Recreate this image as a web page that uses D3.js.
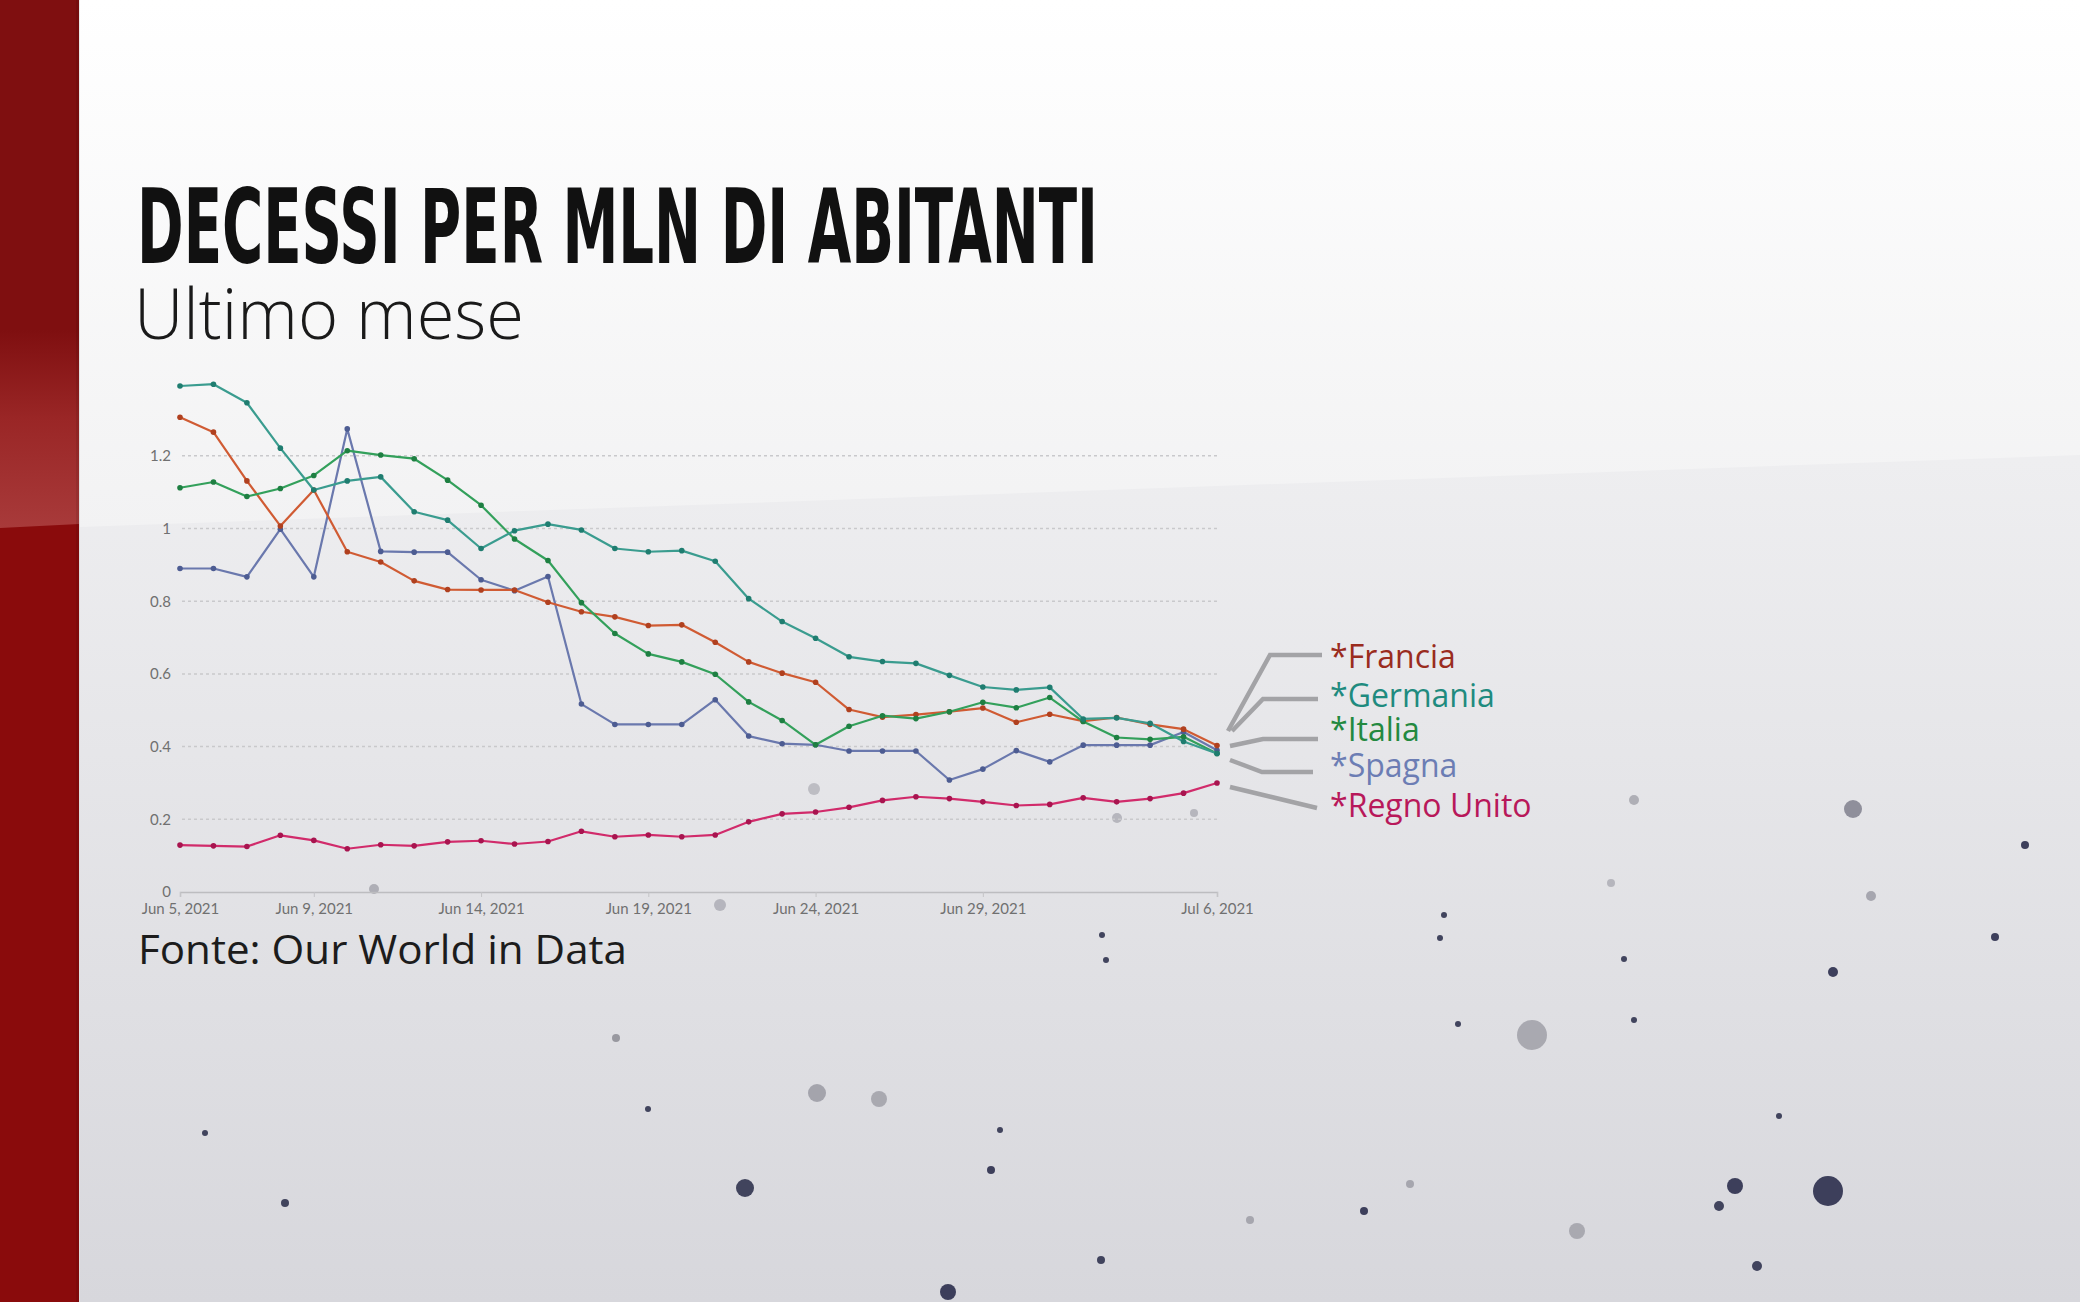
<!DOCTYPE html>
<html>
<head>
<meta charset="utf-8">
<script src="https://cdn.jsdelivr.net/npm/d3@7/dist/d3.min.js"></script>
<style>
  html, body { margin: 0; padding: 0; background: #eeeeee; }
  svg { display: block; }
</style>
</head>
<body>
<svg id="chart" width="2080" height="1302"></svg>
<script>
// ---------------- DATA ----------------
const dates = ["2021-06-05","2021-06-06","2021-06-07","2021-06-08","2021-06-09","2021-06-10","2021-06-11","2021-06-12",
  "2021-06-13","2021-06-14","2021-06-15","2021-06-16","2021-06-17","2021-06-18","2021-06-19","2021-06-20",
  "2021-06-21","2021-06-22","2021-06-23","2021-06-24","2021-06-25","2021-06-26","2021-06-27","2021-06-28",
  "2021-06-29","2021-06-30","2021-07-01","2021-07-02","2021-07-03","2021-07-04","2021-07-05","2021-07-06"];

const francia  = [1.306,1.265,1.131,1.007,1.106,0.936,0.908,0.856,0.832,0.831,0.831,0.797,0.771,0.757,0.733,0.735,
                  0.687,0.633,0.602,0.577,0.502,0.481,0.488,0.496,0.506,0.467,0.489,0.470,0.480,0.461,0.448,0.403];
const germania = [1.392,1.397,1.346,1.221,1.106,1.131,1.142,1.046,1.023,0.945,0.994,1.012,0.996,0.945,0.936,0.939,
                  0.910,0.807,0.744,0.698,0.647,0.634,0.629,0.596,0.564,0.556,0.563,0.476,0.479,0.464,0.414,0.381];
const italia   = [1.112,1.128,1.088,1.110,1.146,1.214,1.202,1.192,1.133,1.064,0.971,0.912,0.796,0.711,0.655,0.633,
                  0.599,0.523,0.472,0.405,0.456,0.485,0.477,0.496,0.522,0.507,0.535,0.469,0.425,0.420,0.427,0.381];
const spagna   = [0.890,0.890,0.867,0.998,0.867,1.274,0.937,0.935,0.935,0.859,0.829,0.868,0.517,0.461,0.461,0.461,
                  0.529,0.429,0.408,0.405,0.388,0.388,0.388,0.308,0.338,0.389,0.358,0.404,0.404,0.404,0.440,0.390];
const regnoUnito = [0.129,0.127,0.125,0.156,0.142,0.119,0.130,0.127,0.138,0.141,0.132,0.139,0.167,0.152,0.157,0.152,
                  0.157,0.193,0.215,0.220,0.233,0.252,0.262,0.257,0.248,0.238,0.241,0.259,0.248,0.257,0.272,0.300];

const seriesNames = ["*Francia","*Germania","*Italia","*Spagna","*Regno Unito"];
const yTicks = [0, 0.2, 0.4, 0.6, 0.8, 1, 1.2];
const xTickLabels = ["2021-06-05","2021-06-09","2021-06-14","2021-06-19","2021-06-24","2021-06-29","2021-07-06"];

const titleText = "DECESSI PER MLN DI ABITANTI";
const subtitleText = "Ultimo mese";
const sourceText = "Fonte: Our World in Data";

// ---------------- STYLE / LAYOUT ----------------
const lineColors  = ["#d05b33", "#3a9c8f", "#33a05b", "#6a78ad", "#d12b6b"];
const dotColors   = ["#b0401f", "#1f7d70", "#1e7f42", "#4d5c92", "#a8144f"];
const labelColors = ["#9a2c1e", "#1f8b7f", "#23893f", "#6c7db4", "#b8185a"];
const drawOrder = [4, 3, 0, 2, 1];

const W = 2080, H = 1302;
const plot = { left: 180, right: 1217, top: 455.8, bottom: 892 };

// label/leader layout (pixel layout of annotations)
const labelX = 1330;
const labelBaselines = [668, 707, 741, 777, 817];
const leaderPaths = [
  [[1228,731],[1270,655],[1322,655]],
  [[1232,731],[1263,699],[1318,699]],
  [[1230,746],[1263,739],[1318,739]],
  [[1230,760],[1262,772],[1313,772]],
  [[1230,787],[1317,808]]
];

// decorative background particles (not data)
const decorDots = [
  [1853,809,9,"#858592"],[1532,1035,15,"#a3a3ab"],[1828,1191,15,"#2b2e4c"],[1735,1186,8,"#2b2e4c"],
  [745,1188,9,"#30334f"],[817,1093,9,"#9d9da6"],[879,1099,8,"#a3a3ab"],[1577,1231,8,"#a3a3ab"],
  [948,1292,8,"#2b2e4c"],[1833,972,5,"#2b2e4c"],[1871,896,5,"#a0a0a8"],[1634,800,5,"#a8a8b0"],
  [814,789,6,"#b8b8bf"],[374,889,5,"#a8a8b0"],[720,905,6,"#b0b0b8"],[991,1170,4,"#2b2e4c"],
  [2025,845,4,"#2b2e4c"],[1995,937,4,"#2b2e4c"],[1364,1211,4,"#2b2e4c"],[1719,1206,5,"#30334f"],
  [1757,1266,5,"#30334f"],[1634,1020,3,"#30334f"],[1779,1116,3,"#30334f"],[1624,959,3,"#30334f"],
  [1458,1024,3,"#30334f"],[1250,1220,4,"#a0a0a8"],[1410,1184,4,"#a0a0a8"],[1101,1260,4,"#30334f"],
  [1000,1130,3,"#30334f"],[1444,915,3,"#30334f"],[1440,938,3,"#30334f"],[1102,935,3,"#30334f"],
  [1106,960,3,"#30334f"],[1194,813,4,"#b0b0b8"],[285,1203,4,"#30334f"],[205,1133,3,"#30334f"],
  [616,1038,4,"#909098"],[648,1109,3,"#30334f"],[1117,818,5,"#b0b0b8"],[1611,883,4,"#b0b0b8"]
];

// ---------------- DRAW ----------------
const svg = d3.select("#chart");
const defs = svg.append("defs");

const gTop = defs.append("linearGradient").attr("id","bgTop").attr("gradientUnits","userSpaceOnUse")
  .attr("x1",0).attr("y1",0).attr("x2",0).attr("y2",530);
gTop.append("stop").attr("offset","0%").attr("stop-color","#ffffff");
gTop.append("stop").attr("offset","100%").attr("stop-color","#f2f2f3");

const gBot = defs.append("linearGradient").attr("id","bgBot").attr("gradientUnits","userSpaceOnUse")
  .attr("x1",0).attr("y1",460).attr("x2",0).attr("y2",H);
gBot.append("stop").attr("offset","0%").attr("stop-color","#eeeef0");
gBot.append("stop").attr("offset","100%").attr("stop-color","#d7d7dc");

const gRed = defs.append("linearGradient").attr("id","redGlow").attr("gradientUnits","userSpaceOnUse")
  .attr("x1",0).attr("y1",330).attr("x2",0).attr("y2",528);
gRed.append("stop").attr("offset","0%").attr("stop-color","#7f0f10");
gRed.append("stop").attr("offset","45%").attr("stop-color","#9a2626");
gRed.append("stop").attr("offset","100%").attr("stop-color","#a83a3a");

// background
svg.append("rect").attr("x",0).attr("y",0).attr("width",W).attr("height",H).attr("fill","url(#bgTop)");
svg.append("path")
  .attr("d", `M80,527 L${W},455 L${W},${H} L80,${H} Z`)
  .attr("fill","url(#bgBot)");

// red band
svg.append("rect").attr("x",0).attr("y",0).attr("width",79).attr("height",H).attr("fill","#8a0b0c");
svg.append("rect").attr("x",0).attr("y",0).attr("width",79).attr("height",331).attr("fill","#7f0f10");
svg.append("path").attr("d","M0,330 L79,330 L79,524 L0,528 Z").attr("fill","url(#redGlow)");
svg.append("rect").attr("x",76).attr("y",0).attr("width",4).attr("height",H).attr("fill","#000").attr("opacity",0.08);

// decoration particles
svg.append("g").selectAll("circle").data(decorDots).join("circle")
  .attr("cx", d => d[0]).attr("cy", d => d[1]).attr("r", d => d[2]).attr("fill", d => d[3]).attr("opacity",0.9);

// title
svg.append("text")
  .attr("x",137).attr("y",263)
  .attr("font-family","'Liberation Sans Narrow','DejaVu Sans Condensed','Roboto',sans-serif")
  .attr("font-weight","bold")
  .attr("font-size",104)
  .attr("fill","#111")
  .attr("textLength",961).attr("lengthAdjust","spacingAndGlyphs")
  .text(titleText);

svg.append("text")
  .attr("x",134).attr("y",339)
  .attr("font-family","'Open Sans','Noto Sans',sans-serif")
  .attr("font-weight",300)
  .attr("font-size",70)
  .attr("fill","#1a1a1a")
  .attr("textLength",390).attr("lengthAdjust","spacingAndGlyphs")
  .text(subtitleText);

// scales
const parse = d3.timeParse("%Y-%m-%d");
const dateObjs = dates.map(parse);
const x = d3.scaleTime().domain([dateObjs[0], dateObjs[dateObjs.length-1]]).range([plot.left, plot.right]);
const y = d3.scaleLinear().domain([0, 1.2]).range([plot.bottom, plot.top]);

// gridlines
const grid = svg.append("g");
grid.selectAll("line").data(yTicks.filter(v => v > 0)).join("line")
  .attr("x1", plot.left + 2).attr("x2", plot.right + 2)
  .attr("y1", d => y(d)).attr("y2", d => y(d))
  .attr("stroke","#c9c9cc").attr("stroke-width",1.5).attr("stroke-dasharray","3,3");

// y axis labels
const yAxis = d3.axisLeft(y).tickValues(yTicks).tickSize(0).tickPadding(8)
  .tickFormat(d => d3.format("~g")(d));
const yG = svg.append("g").attr("transform",`translate(${plot.left - 1},0)`).call(yAxis);
yG.select(".domain").remove();
yG.selectAll("text").attr("font-family","Lato,'Noto Sans',sans-serif").attr("font-size",15).attr("fill","#707070");

// x axis
const xAxis = d3.axisBottom(x).tickValues(xTickLabels.map(parse)).tickSize(5).tickPadding(6)
  .tickFormat(d3.timeFormat("%b %-d, %Y"));
const xG = svg.append("g").attr("transform",`translate(0,${plot.bottom})`).call(xAxis);
xG.select(".domain").attr("stroke","#bdbdc0").attr("stroke-width",1.5);
xG.selectAll(".tick line").attr("stroke","#c4c4c7");
xG.selectAll("text").attr("font-family","Lato,'Noto Sans',sans-serif").attr("font-size",15).attr("fill","#707070");

// series
const allSeries = [francia, germania, italia, spagna, regnoUnito];
const line = d3.line().x((d,i) => x(dateObjs[i])).y(d => y(d));
const sg = svg.append("g");
drawOrder.forEach(k => {
  const vals = allSeries[k];
  sg.append("path").datum(vals)
    .attr("d", line)
    .attr("fill","none")
    .attr("stroke", lineColors[k])
    .attr("stroke-width",2.2)
    .attr("stroke-linejoin","round");
  sg.append("g").selectAll("circle").data(vals).join("circle")
    .attr("cx",(d,i) => x(dateObjs[i])).attr("cy", d => y(d)).attr("r",2.8)
    .attr("fill", dotColors[k]);
});

// leader lines + labels
const leader = d3.line();
leaderPaths.forEach((p,k) => {
  svg.append("path").attr("d", leader(p)).attr("fill","none")
    .attr("stroke","#a3a3a6").attr("stroke-width",4.5).attr("stroke-linejoin","miter");
});
svg.append("g").selectAll("text").data(seriesNames).join("text")
  .attr("x", labelX).attr("y",(d,i) => labelBaselines[i])
  .attr("font-family","'Open Sans','Noto Sans',sans-serif")
  .attr("font-size",32)
  .attr("fill",(d,i) => labelColors[i])
  .text(d => d);

// source
svg.append("text")
  .attr("x",138).attr("y",964)
  .attr("font-family","'Open Sans','Noto Sans',sans-serif")
  .attr("font-size",41)
  .attr("fill","#1c1c1c")
  .attr("textLength",489).attr("lengthAdjust","spacingAndGlyphs")
  .text(sourceText);
</script>
</body>
</html>
